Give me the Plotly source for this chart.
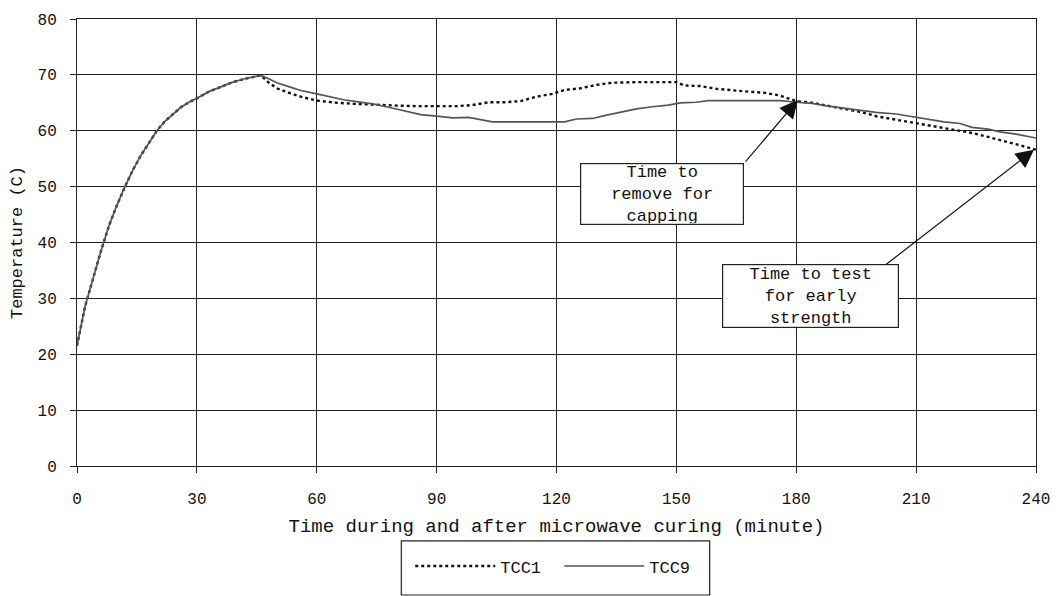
import plotly.graph_objects as go

# ---- data ----
rise_time = [0, 1, 2, 3, 4, 5, 6, 8, 10, 12, 14, 16, 18, 20, 22, 24, 26, 28, 30, 33, 36, 39, 42, 45]
rise_temp = [21.5, 25.0, 28.5, 31.0, 33.5, 36.0, 38.5, 43.0, 46.7, 50.0, 53.0, 55.6, 57.9, 60.0, 61.7, 63.0, 64.2, 65.1, 65.8, 67.0, 67.9, 68.7, 69.3, 69.8]

tcc1_time_after = [46, 48, 50, 53, 56, 60, 65, 70, 75, 80, 85, 90, 95, 99, 103, 107, 111, 115, 119, 122,
                   126, 130, 134, 140, 146, 150, 152, 156, 160, 164, 168, 172, 176, 178, 180, 184, 188,
                   192, 196, 200, 204, 208, 212, 216, 220, 224, 228, 232, 236, 240]
tcc1_temp_after = [69.9, 68.6, 67.6, 66.8, 66.1, 65.4, 65.0, 64.8, 64.6, 64.5, 64.4, 64.4, 64.4, 64.6, 65.1, 65.1,
                   65.3, 66.1, 66.6, 67.3, 67.6, 68.2, 68.6, 68.7, 68.7, 68.7, 68.1, 68.0, 67.5, 67.2,
                   67.0, 66.8, 66.3, 65.8, 65.3, 65.0, 64.4, 63.9, 63.4, 62.6, 62.1, 61.6, 61.1, 60.6,
                   60.1, 59.6, 58.9, 58.2, 57.4, 56.6]

tcc9_time_after = [46, 48, 50, 53, 56, 60, 64, 67, 70, 74, 78, 82, 86, 90, 94, 98, 101, 104, 110, 116, 122,
                   125, 129, 132, 136, 140, 144, 148, 151, 155, 158, 164, 170, 176, 180, 184, 188, 192,
                   196, 200, 205, 209, 213, 217, 221, 224, 228, 231, 235, 238, 240]
tcc9_temp_after = [69.9, 69.3, 68.6, 67.9, 67.2, 66.6, 66.0, 65.5, 65.2, 64.8, 64.2, 63.6, 62.9, 62.6, 62.3,
                   62.4, 62.0, 61.6, 61.6, 61.6, 61.6, 62.1, 62.2, 62.7, 63.3, 63.9, 64.3, 64.6, 65.0,
                   65.1, 65.4, 65.4, 65.5, 65.4, 65.1, 64.9, 64.4, 64.0, 63.7, 63.3, 63.0, 62.5, 62.1,
                   61.6, 61.3, 60.6, 60.3, 59.8, 59.4, 59.0, 58.7]

tcc1_time = rise_time + tcc1_time_after
tcc1_temp = rise_temp + tcc1_temp_after
tcc9_time = rise_time + tcc9_time_after
tcc9_temp = rise_temp + tcc9_temp_after

x_ticks = [0, 30, 60, 90, 120, 150, 180, 210, 240]
y_ticks = [0, 10, 20, 30, 40, 50, 60, 70, 80]

# annotation anchors (data units)
note1_text = "Time to<br>remove for<br>capping"
note1_center = (146.4, 48.6)
note1_tip = (180.4, 65.5)
note1_tail = (167.0, 54.2)

note2_text = "Time to test<br>for early<br>strength"
note2_center = (183.6, 30.4)
note2_tip = (239.5, 56.6)
note2_tail = (202.0, 35.8)

FONT = "Liberation Mono, Courier New, monospace"

fig = go.Figure()
fig.add_trace(go.Scatter(x=tcc1_time, y=tcc1_temp, mode="lines", name="TCC1",
                         line=dict(color="#111111", width=2.4, dash="dot")))
fig.add_trace(go.Scatter(x=tcc9_time, y=tcc9_temp, mode="lines", name="TCC9",
                         line=dict(color="#555555", width=1.7)))

axis_common = dict(showgrid=True, gridcolor="#222222", gridwidth=1,
                   showline=True, linecolor="#222222", linewidth=1, mirror=True,
                   ticks="outside", ticklen=6, tickcolor="#222222", zeroline=False,
                   tickfont=dict(family=FONT, size=16, color="#111111"))

fig.update_xaxes(range=[0, 240], tickvals=x_ticks, ticklabelstandoff=12,
                 title=dict(text="Time during and after microwave curing (minute)",
                            font=dict(family=FONT, size=19, color="#111111"), standoff=10),
                 **axis_common)
fig.update_yaxes(range=[0, 80], tickvals=y_ticks, ticklabelstandoff=10,
                 title=dict(text="Temperature (C)",
                            font=dict(family=FONT, size=17, color="#111111"), standoff=10),
                 **axis_common)

for center, tip, tail, text, w, h in [
    (note1_center, note1_tip, note1_tail, note1_text, 160, 58),
    (note2_center, note2_tip, note2_tail, note2_text, 173, 60),
]:
    fig.add_annotation(x=center[0], y=center[1], xref="x", yref="y", text=text, showarrow=False,
                       font=dict(family=FONT, size=17, color="#111111"),
                       bgcolor="white", bordercolor="#222222", borderwidth=1.2, borderpad=1,
                       width=w, height=h, align="center")
    fig.add_annotation(x=tip[0], y=tip[1], xref="x", yref="y", ax=tail[0], ay=tail[1],
                       axref="x", ayref="y", text="", showarrow=True, arrowhead=2,
                       arrowsize=3, arrowwidth=1.2, arrowcolor="#111111")

# legend frame
fig.add_shape(type="rect", xref="paper", yref="paper", x0=(403 - 77) / 964, x1=(713 - 77) / 964,
              y0=(469 - 600) / 454, y1=(469 - 545) / 454,
              line=dict(color="#222222", width=1.2), fillcolor="white", layer="below")

fig.update_layout(
    width=1062, height=596,
    margin=dict(l=77, r=21, t=15, b=127),
    paper_bgcolor="white", plot_bgcolor="white",
    font=dict(family=FONT, color="#111111"),
    showlegend=True,
    legend=dict(orientation="h", x=(412 - 77) / 964, xanchor="left", y=(469 - 571) / 454, yanchor="middle",
                font=dict(family=FONT, size=17, color="#111111"),
                bgcolor="rgba(0,0,0,0)", entrywidth=54, entrywidthmode="pixels",
                itemwidth=80),
)

fig.write_html("out.html")
